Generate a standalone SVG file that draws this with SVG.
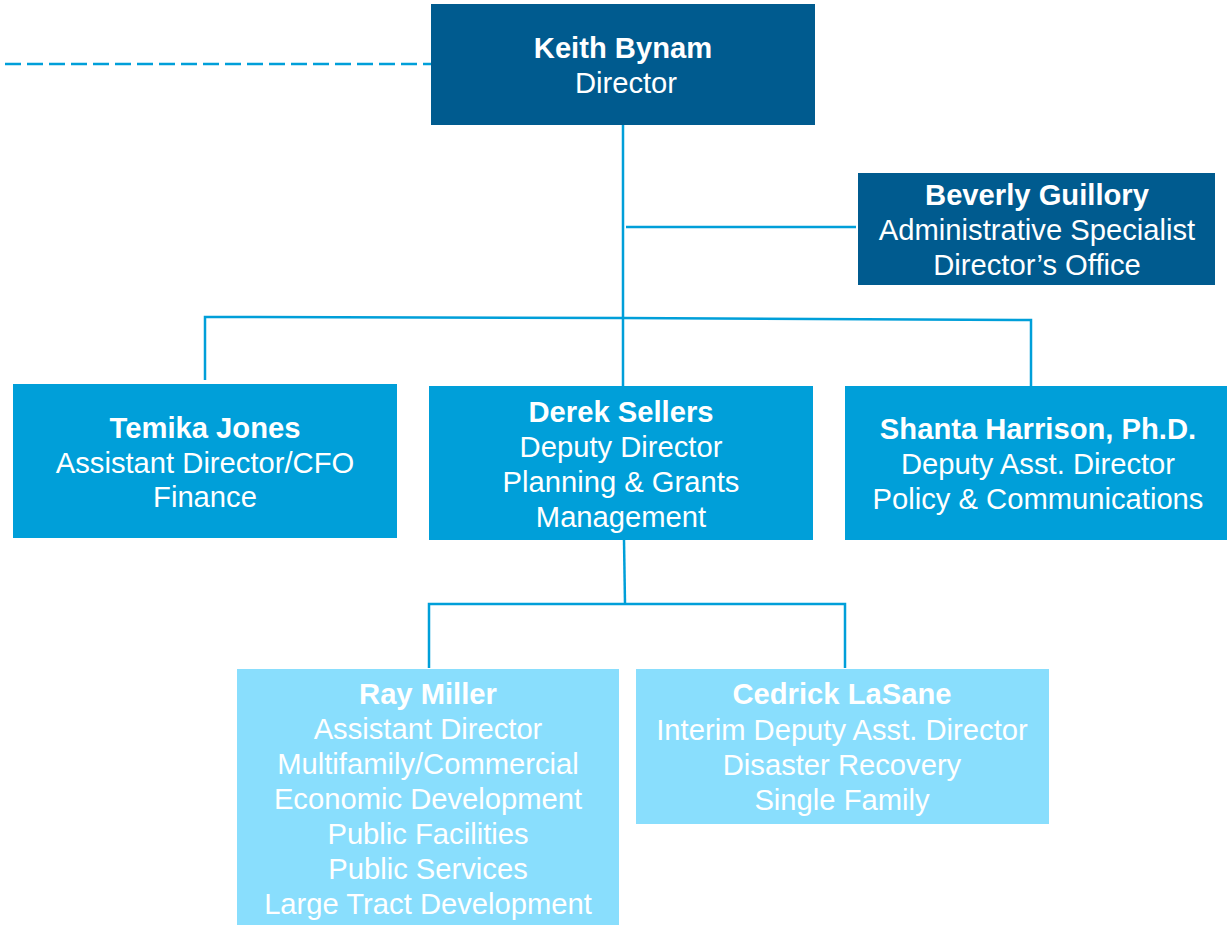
<svg xmlns="http://www.w3.org/2000/svg" width="1227" height="925" viewBox="0 0 1227 925">
<style>
text{font-family:"Liberation Sans",Arial,sans-serif;font-size:29.2px;fill:#fff;text-anchor:middle}
.b{font-weight:bold}
.dk{fill:#005B8F}
.md{fill:#009FD9}
.lt{fill:#89DEFD}
.c{stroke:#009FD9;stroke-width:2.5;fill:none}
</style>
<rect width="1227" height="925" fill="#fff"/>
<g id="connectors">
<line class="c" x1="5" y1="64" x2="436" y2="64" stroke-dasharray="16,6"/>
<line class="c" x1="623" y1="125" x2="623" y2="386"/>
<line class="c" x1="626" y1="227" x2="856" y2="227"/>
<polyline class="c" points="205,380 205,317 623,318 1031,320 1031,386"/>
<line class="c" x1="624" y1="540" x2="625" y2="604"/>
<polyline class="c" points="429,668 429,604 845,604 845,668"/>
</g>
<g id="keith">
<rect class="dk" x="431" y="4" width="384" height="121"/>
<text x="623" y="58" class="b">Keith Bynam</text>
<text x="626" y="93">Director</text>
</g>
<g id="beverly">
<rect class="dk" x="858" y="173" width="357" height="112"/>
<text x="1037" y="205" class="b">Beverly Guillory</text>
<text x="1037" y="240">Administrative Specialist</text>
<text x="1037" y="275">Director’s Office</text>
</g>
<g id="temika">
<rect class="md" x="13" y="384" width="384" height="154"/>
<text x="205" y="438" class="b">Temika Jones</text>
<text x="205" y="473">Assistant Director/CFO</text>
<text x="205" y="507">Finance</text>
</g>
<g id="derek">
<rect class="md" x="429" y="386" width="384" height="154"/>
<text x="621" y="422" class="b">Derek Sellers</text>
<text x="621" y="457">Deputy Director</text>
<text x="621" y="492">Planning &amp; Grants</text>
<text x="621" y="527">Management</text>
</g>
<g id="shanta">
<rect class="md" x="845" y="386" width="382" height="154"/>
<text x="1038" y="439" class="b">Shanta Harrison, Ph.D.</text>
<text x="1038" y="474">Deputy Asst. Director</text>
<text x="1038" y="509">Policy &amp; Communications</text>
</g>
<g id="ray">
<rect class="lt" x="237" y="669" width="382" height="256"/>
<text x="428" y="704" class="b">Ray Miller</text>
<text x="428" y="739">Assistant Director</text>
<text x="428" y="774">Multifamily/Commercial</text>
<text x="428" y="809">Economic Development</text>
<text x="428" y="844">Public Facilities</text>
<text x="428" y="879">Public Services</text>
<text x="428" y="914">Large Tract Development</text>
</g>
<g id="cedrick">
<rect class="lt" x="636" y="669" width="413" height="155"/>
<text x="842" y="704" class="b">Cedrick LaSane</text>
<text x="842" y="740">Interim Deputy Asst. Director</text>
<text x="842" y="775">Disaster Recovery</text>
<text x="842" y="810">Single Family</text>
</g>
</svg>
